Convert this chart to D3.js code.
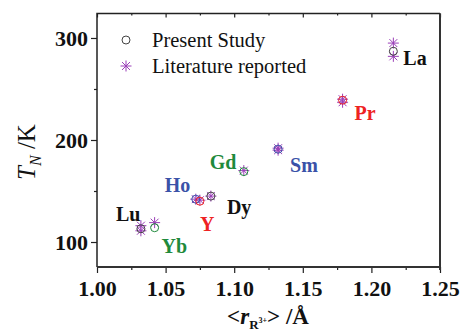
<!DOCTYPE html>
<html>
<head>
<meta charset="utf-8">
<script src="https://cdn.jsdelivr.net/npm/d3@7/dist/d3.min.js"></script>
<style>
  html, body { margin: 0; padding: 0; background: #fff; }
  svg { display: block; }
  svg text { font-family: "Liberation Serif", "Times New Roman", Times, serif; }
</style>
</head>
<body>
<svg id="chart" width="463" height="334"></svg>
<script>
// Rare-earth ions, mean ionic radius <r_R3+> (Å) and Néel temperature T_N (K)
const ions      = ["La", "Pr", "Sm", "Gd", "Dy", "Ho", "Y", "Yb", "Lu"];
const radius    = [1.216, 1.179, 1.132, 1.107, 1.083, 1.072, 1.075, 1.042, 1.032];
const tnPresent = [287, 239, 191, 169, 145, 142, 140, 114, 113];
// literature reports (some ions have two reported values)
const litIon    = ["La", "La", "Pr", "Pr", "Sm", "Sm", "Gd", "Dy", "Ho", "Y", "Yb", "Lu", "Lu"];
const tnLit     = [295, 282, 240, 237, 192, 190, 170, 145, 142, 141, 119, 116, 111];
const ionColor  = ["#111111", "#ee2222", "#3a52a8", "#1f8a3c", "#111111", "#3a52a8", "#ee2222", "#1f8a3c", "#111111"];
// label placement relative to each point, in pixels
const labelDx   = [10, 12, 12, -34, 16, -31, 0, 7, -25];
const labelDy   = [14, 20, 23, -3, 18, -7, 30, 25, -8];

const xTicks = [1.00, 1.05, 1.10, 1.15, 1.20, 1.25];
const yTicks = [100, 200, 300];
const xMinor = [1.025, 1.075, 1.125, 1.175, 1.225];
const yMinor = [150, 250];

const svg = d3.select("#chart");
const L = 97, R = 440, T = 13.5, B = 267;
const x = d3.scaleLinear().domain([1.0, 1.25]).range([L, R]);
const y = d3.scaleLinear().domain([75.5, 324]).range([B, T]);
const litColor = "#9a3fb8";

// bottom axis
const gx = svg.append("g").attr("transform", `translate(0,${B})`)
  .call(d3.axisBottom(x).tickValues(xTicks).tickFormat(d3.format(".2f")).tickSize(6).tickPadding(7));
gx.append("g").call(d3.axisBottom(x).tickValues(xMinor).tickFormat("").tickSize(3));
// left axis
const gy = svg.append("g").attr("transform", `translate(${L},0)`)
  .call(d3.axisLeft(y).tickValues(yTicks).tickFormat(d3.format("d")).tickSize(6).tickPadding(3));
gy.append("g").call(d3.axisLeft(y).tickValues(yMinor).tickFormat("").tickSize(3));
// top axis, ticks pointing inward
svg.append("g").attr("transform", `translate(0,${T})`)
  .call(d3.axisBottom(x).tickValues(xTicks).tickFormat("").tickSize(4))
  .call(g => g.append("g").call(d3.axisBottom(x).tickValues(xMinor).tickFormat("").tickSize(2)));

svg.selectAll(".domain").remove();
svg.selectAll(".tick line").attr("stroke", "#222").attr("stroke-width", 1.2);
svg.selectAll(".tick text").attr("fill", "#111").style("font-size", "22px").style("font-weight", "bold")
  .style("font-family", "'Liberation Serif', 'Times New Roman', serif");
gy.selectAll(".tick text").attr("dy", "0.36em");

// frame
svg.append("path").attr("d", `M${L},${B}V${T}H${R}`).attr("fill", "none").attr("stroke", "#222").attr("stroke-width", 1.5);
svg.append("path").attr("d", `M${L},${B}H${R}`).attr("fill", "none").attr("stroke", "#333").attr("stroke-width", 1.8);
svg.append("path").attr("d", `M${R},${T}V${B + 3}`).attr("fill", "none").attr("stroke", "#333").attr("stroke-width", 2);

// asterisk marker
function star(g, cx, cy, s, color) {
  const d = s * 0.72;
  g.append("path")
    .attr("d", `M${cx},${cy - s}V${cy + s}M${cx - s},${cy}H${cx + s}M${cx - d},${cy - d}L${cx + d},${cy + d}M${cx - d},${cy + d}L${cx + d},${cy - d}`)
    .attr("stroke", color).attr("stroke-width", 1).attr("fill", "none");
}

const marks = svg.append("g");
// literature values
litIon.forEach((ion, i) => {
  const k = ions.indexOf(ion);
  star(marks, x(radius[k]), y(tnLit[i]), 5.5, litColor);
});
// present study
marks.selectAll("circle").data(ions).join("circle")
  .attr("cx", (d, i) => x(radius[i]))
  .attr("cy", (d, i) => y(tnPresent[i]))
  .attr("r", 4)
  .attr("fill", "none")
  .attr("stroke", (d, i) => ionColor[i] === "#111111" ? "#444" : ionColor[i])
  .attr("stroke-width", 1);

// ion labels
svg.append("g").selectAll("text").data(ions).join("text")
  .attr("x", (d, i) => x(radius[i]) + labelDx[i])
  .attr("y", (d, i) => y(tnPresent[i]) + labelDy[i])
  .attr("fill", (d, i) => ionColor[i])
  .style("font-size", "20px").style("font-weight", "bold")
  .text(d => d);

// legend
const lg = svg.append("g");
lg.append("circle").attr("cx", 126).attr("cy", 40).attr("r", 4).attr("fill", "none").attr("stroke", "#444").attr("stroke-width", 1);
star(lg, 126, 66, 5.5, litColor);
lg.append("text").attr("x", 152).attr("y", 47).style("font-size", "20.5px").attr("fill", "#111").text("Present Study");
lg.append("text").attr("x", 152).attr("y", 73).style("font-size", "20.5px").attr("fill", "#111").text("Literature reported");

// axis titles
const yt = svg.append("text").attr("transform", "translate(35,152) rotate(-90)")
  .attr("text-anchor", "middle").style("font-size", "25px").attr("fill", "#111");
yt.append("tspan").style("font-style", "italic").text("T");
yt.append("tspan").style("font-style", "italic").style("font-size", "16px").attr("dy", 6).text("N");
yt.append("tspan").attr("dy", -6).text(" /K");

const xt = svg.append("text").attr("x", 268).attr("y", 324).attr("text-anchor", "middle")
  .style("font-size", "23px").style("font-weight", "bold").attr("fill", "#111");
xt.append("tspan").text("<");
xt.append("tspan").style("font-style", "italic").text("r");
xt.append("tspan").style("font-size", "13px").attr("dy", 5).text("R");
xt.append("tspan").style("font-size", "8px").attr("dy", -6).text("3+");
xt.append("tspan").attr("dy", 1).text("> /Å");
</script>
</body>
</html>
